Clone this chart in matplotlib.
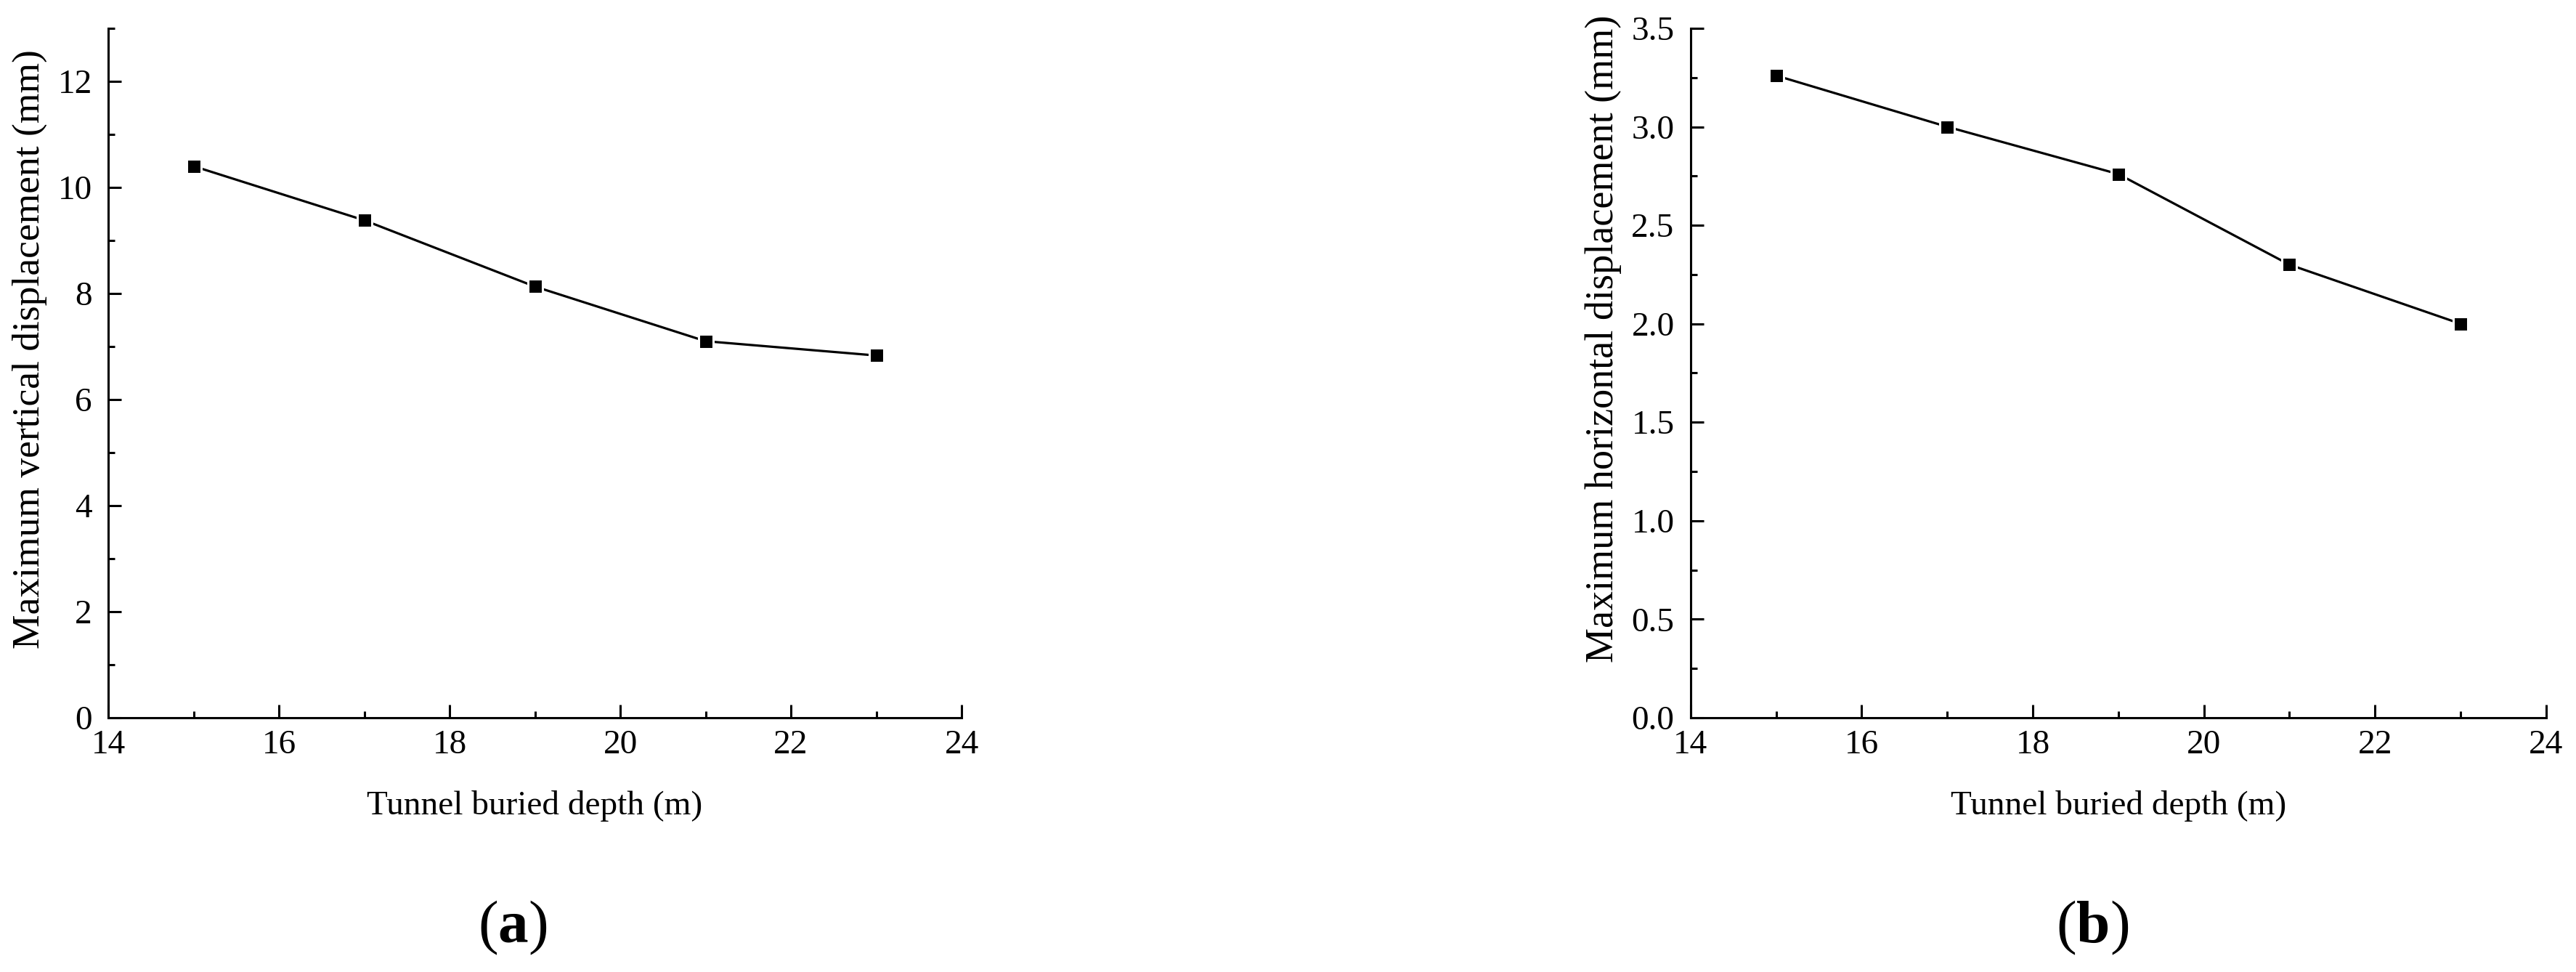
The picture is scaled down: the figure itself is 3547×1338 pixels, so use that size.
import matplotlib
matplotlib.use("Agg")
from matplotlib import pyplot as plt
from matplotlib.ticker import MultipleLocator

depth = [15, 17, 19, 21, 23]
vertical = [10.4, 9.38, 8.13, 7.1, 6.83]
horizontal = [3.26, 3.0, 2.76, 2.3, 2.0]

plt.rcParams["font.family"] = ["Liberation Serif", "DejaVu Serif"]
plt.rcParams["mathtext.fontset"] = "custom"
plt.rcParams["mathtext.rm"] = "Liberation Serif"
plt.rcParams["mathtext.bf"] = "Liberation Serif:bold"

fig = plt.figure(figsize=(35.48, 13.38), dpi=100)

ax1 = fig.add_axes([0.0420, 0.2616, 0.3312, 0.7093])
ax2 = fig.add_axes([0.6561, 0.2616, 0.3320, 0.7093])


def style(ax, ylim, major, minor):
    ax.set_xlim(14, 24)
    ax.set_ylim(*ylim)
    ax.xaxis.set_major_locator(MultipleLocator(2))
    ax.xaxis.set_minor_locator(MultipleLocator(1))
    ax.yaxis.set_major_locator(MultipleLocator(major))
    ax.yaxis.set_minor_locator(MultipleLocator(minor))
    for s in ["top", "right"]:
        ax.spines[s].set_visible(False)
    for s in ["left", "bottom"]:
        ax.spines[s].set_linewidth(2.2)
    ax.tick_params(which="both", direction="in", width=2.2, labelsize=34)
    ax.tick_params(which="major", length=13)
    ax.tick_params(which="minor", length=6.5)
    ax.tick_params(axis="x", which="both", pad=12)
    ax.tick_params(axis="y", which="both", pad=16)


style(ax1, (0, 13), 2, 1)
style(ax2, (0, 3.5), 0.5, 0.25)
ax2.yaxis.set_major_formatter(plt.FormatStrFormatter("%.1f"))

for ax, vals in [(ax1, vertical), (ax2, horizontal)]:
    ax.plot(depth, vals, color="black", lw=2.3, marker="s", markersize=13.7,
            markerfacecolor="black", markeredgecolor="white", markeredgewidth=2.2,
            clip_on=False)

ax1.set_xlabel("Tunnel buried depth (m)", fontsize=34, va="top")
ax1.xaxis.set_label_coords(0.5, -0.105)
ax1.set_ylabel("Maximum vertical displacement (mm)", fontsize=38.5)
ax1.yaxis.set_label_coords(-0.0715, 0.535)

ax2.set_xlabel("Tunnel buried depth (m)", fontsize=34, va="top")
ax2.xaxis.set_label_coords(0.5, -0.105)
ax2.set_ylabel("Maximum horizontal displacement (mm)", fontsize=39)
ax2.yaxis.set_label_coords(-0.0806, 0.55)

fig.text(0.199, 0.045, r"($\mathbf{a}$)", fontsize=60, ha="center", va="center")
fig.text(0.812, 0.045, r"($\mathbf{b}$)", fontsize=60, ha="center", va="center")

fig.savefig("out.png", dpi=100)
